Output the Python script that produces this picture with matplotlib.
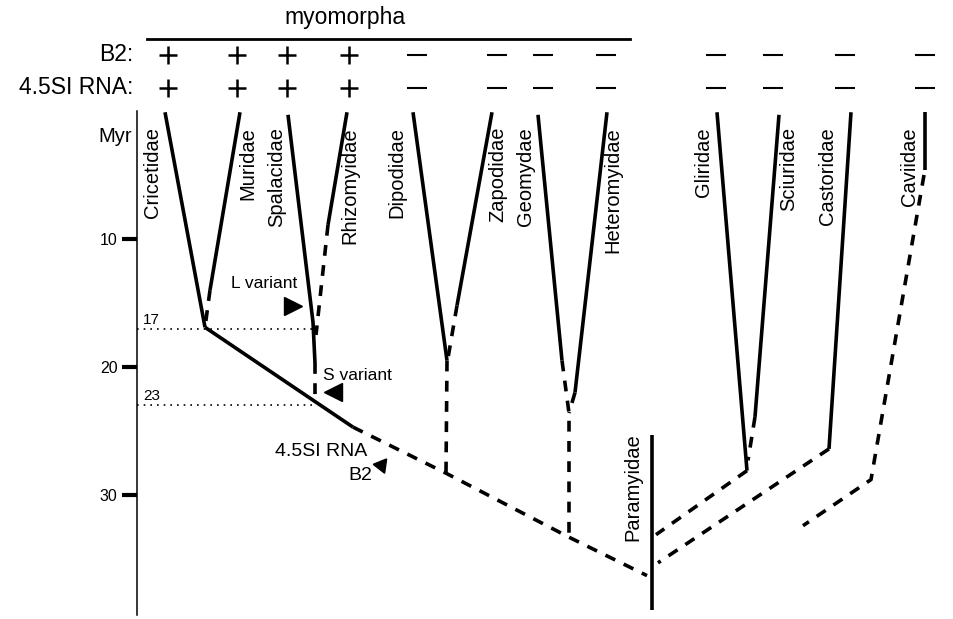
import matplotlib
matplotlib.use("Agg")
import matplotlib.pyplot as plt

plt.rcParams['font.family'] = ['Liberation Sans', 'DejaVu Sans']

# families along the top, with their B2 / 4.5SI RNA status
taxa = ['Cricetidae', 'Muridae', 'Spalacidae', 'Rhizomyidae', 'Dipodidae',
        'Zapodidae', 'Geomydae', 'Heteromyidae', 'Gliridae', 'Sciuridae',
        'Castoridae', 'Caviidae']
b2 = ['+', '+', '+', '+', '-', '-', '-', '-', '-', '-', '-', '-']
rna45 = ['+', '+', '+', '+', '-', '-', '-', '-', '-', '-', '-', '-']
mark_x = [168, 237, 287, 349, 417, 497, 543, 606, 716, 773, 845, 925]
label_x = [153, 248, 277, 350, 397, 498, 526, 613, 704, 789, 828, 910]

# branches: (x positions, time in Myr)
solid = {
    'Cricetidae': ([165, 205], [0.1, 16.9]),
    'Muridae': ([240, 210], [0.1, 14.0]),
    'Spalacidae': ([288, 313, 315], [0.3, 16.5, 19.7]),
    'Rhizomyidae': ([347, 328], [0.1, 8.9]),
    'stem': ([205, 315, 353], [16.9, 22.7, 24.7]),
    'Dipodidae': ([413, 447], [0.1, 19.5]),
    'Zapodidae': ([492, 457], [0.1, 15.2]),
    'Geomydae': ([538, 562], [0.3, 19.5]),
    'Heteromyidae': ([607, 575], [0.1, 22.0]),
    'Gliridae': ([717, 747], [0.1, 28.1]),
    'Sciuridae': ([779, 755], [0.3, 23.9]),
    'Castoridae': ([851, 829], [0.1, 26.4]),
    'Caviidae': ([925, 925], [0.1, 4.6]),
    'Paramyidae': ([652, 652], [25.3, 39.0]),
}
dashed = {
    'Muridae': ([210, 205], [14.0, 16.9]),
    'Spalacidae': ([315, 315], [19.7, 22.7]),
    'Rhizomyidae': ([328, 316], [8.9, 17.5]),
    'stem': ([353, 446, 569, 647], [24.7, 28.3, 33.3, 36.3]),
    'Dipodidae': ([447, 446], [19.5, 28.3]),
    'Zapodidae': ([457, 448], [15.2, 19.3]),
    'Geomydae': ([562, 569, 569], [19.5, 23.6, 33.3]),
    'Heteromyidae': ([575, 569], [22.0, 23.6]),
    'Sciuridae': ([755, 748], [23.9, 27.3]),
    'Caviidae': ([924, 871, 803], [5.0, 28.8, 32.4]),
    'Gliridae_link': ([747, 656], [28.1, 33.1]),
    'Castoridae_link': ([829, 658], [26.4, 35.3]),
}

dates = [17, 23]
myr_ticks = [10, 20, 30]

fig = plt.figure(figsize=(9.54, 6.19), dpi=100)
ax = fig.add_axes([0, 0, 1, 1])
ax.set_xlim(0, 954)
ax.set_ylim(39.69, -8.67)

for xs, ys in solid.values():
    ax.plot(xs, ys, color='black', lw=2.6, solid_capstyle='butt')
for xs, ys in dashed.values():
    ax.plot(xs, ys, color='black', lw=2.6, linestyle=(0, (3, 2.6)),
            dash_capstyle='butt')

# time axis
for s in ['top', 'right', 'bottom']:
    ax.spines[s].set_visible(False)
ax.spines['left'].set_position(('data', 137))
ax.spines['left'].set_bounds(0, 39.4)
ax.spines['left'].set_linewidth(1.1)
ax.set_xticks([])
ax.set_yticks(myr_ticks)
ax.tick_params(axis='y', direction='out', length=11, width=3, labelsize=11.5, pad=3)
ax.text(132, 2.0, 'Myr', ha='right', va='center', fontsize=14.5)

# dated nodes
for d in dates:
    ax.plot([137, 315], [d, d], color='black', lw=1.2, linestyle=(0, (1, 3)))
    ax.text(143, d - 0.7, str(d), ha='left', va='center', fontsize=11)

# family names
for name, x in zip(taxa, label_x):
    ax.text(x, 1.25, name, rotation=90, ha='center', va='top', fontsize=14.5)
ax.text(633, 25.15, 'Paramyidae', rotation=90, ha='center', va='top', fontsize=14.5)

# header
ax.text(345, -7.34, 'myomorpha', ha='center', va='center', fontsize=16.5)
ax.plot([147, 630], [-5.63, -5.63], color='black', lw=2)
ax.text(133, -4.38, 'B2:', ha='right', va='center', fontsize=16.5)
ax.text(133, -1.8, '4.5SI RNA:', ha='right', va='center', fontsize=16.5)
for row, y in [(b2, -4.38), (rna45, -1.8)]:
    for x, m in zip(mark_x, row):
        if m == '+':
            ax.plot(x, y, marker='+', ms=13, mew=1.8, color='black')
        else:
            ax.plot(x, y, marker='_', ms=14, mew=1.5, color='black')

# insertion markers
ax.plot(293, 15.2, marker='>', ms=13, color='black')
ax.text(264, 13.44, 'L variant', ha='center', va='center', fontsize=12.5)
ax.plot(333, 21.95, marker='<', ms=13, color='black')
ax.text(323, 20.7, 'S variant', ha='left', va='center', fontsize=12.5)
ax.plot(381, 27.66, marker=(3, 0, -38), ms=12, color='black')
ax.text(367, 26.64, '4.5SI RNA', ha='right', va='center', fontsize=14)
ax.text(372, 28.44, 'B2', ha='right', va='center', fontsize=14)

fig.savefig('out.png', dpi=100)
